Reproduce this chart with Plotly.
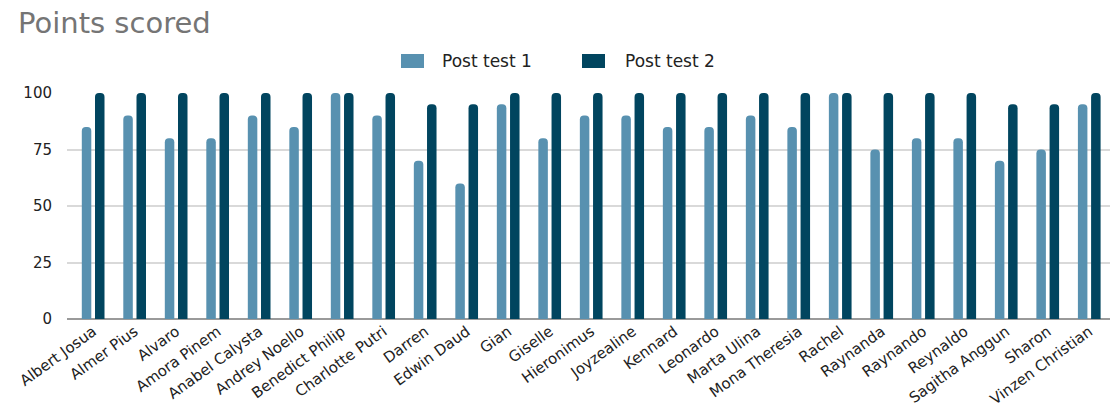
import plotly.graph_objects as go

# Student names and their scores on the two post tests
students = [
    "Albert Josua", "Almer Pius", "Alvaro", "Amora Pinem", "Anabel Calysta",
    "Andrey Noello", "Benedict Philip", "Charlotte Putri", "Darren", "Edwin Daud",
    "Gian", "Giselle", "Hieronimus", "Joyzealine", "Kennard", "Leonardo",
    "Marta Ulina", "Mona Theresia", "Rachel", "Raynanda", "Raynando",
    "Reynaldo", "Sagitha Anggun", "Sharon", "Vinzen Christian",
]
post_test_1 = [85, 90, 80, 80, 90, 85, 100, 90, 70, 60, 95, 80, 90, 90, 85,
               85, 90, 85, 100, 75, 80, 80, 70, 75, 95]
post_test_2 = [100, 100, 100, 100, 100, 100, 100, 100, 95, 95, 100, 100, 100,
               100, 100, 100, 100, 100, 100, 100, 100, 100, 95, 95, 100]
y_ticks = [0, 25, 50, 75, 100]

series_names = ["Post test 1", "Post test 2"]
colors = ["#5891b0", "#01455f"]
FONT = "DejaVu Sans, Verdana, sans-serif"

W, H = 1110, 407
plot_left, plot_right, plot_top, plot_bottom = 67, 1110, 93, 319
pw = plot_right - plot_left
ph = plot_bottom - plot_top

fig = go.Figure()
for name, vals, col in zip(series_names, [post_test_1, post_test_2], colors):
    fig.add_trace(go.Bar(
        x=students, y=vals, name=name,
        marker=dict(color=col, cornerradius=4, line=dict(width=0)),
        showlegend=False,
    ))

# Legend drawn by hand: wide rounded swatches with labels above the plot
swatches = [(401, colors[0], series_names[0], 440),
            (582, colors[1], series_names[1], 623)]
for sx, col, label, tx in swatches:
    fig.add_shape(type="rect", xref="paper", yref="paper",
                  x0=(sx - plot_left) / pw, x1=(sx + 23 - plot_left) / pw,
                  y0=(plot_bottom - 68) / ph, y1=(plot_bottom - 54) / ph,
                  line=dict(width=0), fillcolor=col, layer="above")
    fig.add_annotation(text=label, xref="paper", yref="paper",
                       x=(tx - plot_left) / pw, y=(plot_bottom - 61) / ph,
                       xanchor="left", yanchor="middle", showarrow=False,
                       font=dict(family=FONT, size=17, color="#222222"))

fig.update_layout(
    width=W, height=H,
    margin=dict(l=plot_left, r=W - plot_right, t=plot_top, b=H - plot_bottom),
    paper_bgcolor="white", plot_bgcolor="white",
    barmode="group", bargap=0.364, bargroupgap=0.28,
    title=dict(text="Points scored", x=18 / W, xanchor="left",
               y=1 - 23 / H, yanchor="middle",
               font=dict(family=FONT, size=29, color="#757575")),
    font=dict(family=FONT, size=14, color="#222222"),
)
fig.update_xaxes(
    type="category", range=[-0.63, 24.5], tickangle=-36,
    showgrid=False, showline=False, ticks="",
    tickfont=dict(family=FONT, size=15, color="#222222"),
)
fig.update_yaxes(
    range=[0, 100], tickvals=y_ticks, ticks="",
    showgrid=True, gridcolor="#d9d9d9", gridwidth=1.5,
    zeroline=True, zerolinecolor="#9a9a9a", zerolinewidth=2,
    showline=False, ticklabelstandoff=14,
    tickfont=dict(family=FONT, size=15, color="#222222"),
)

fig.write_html("out.html")
